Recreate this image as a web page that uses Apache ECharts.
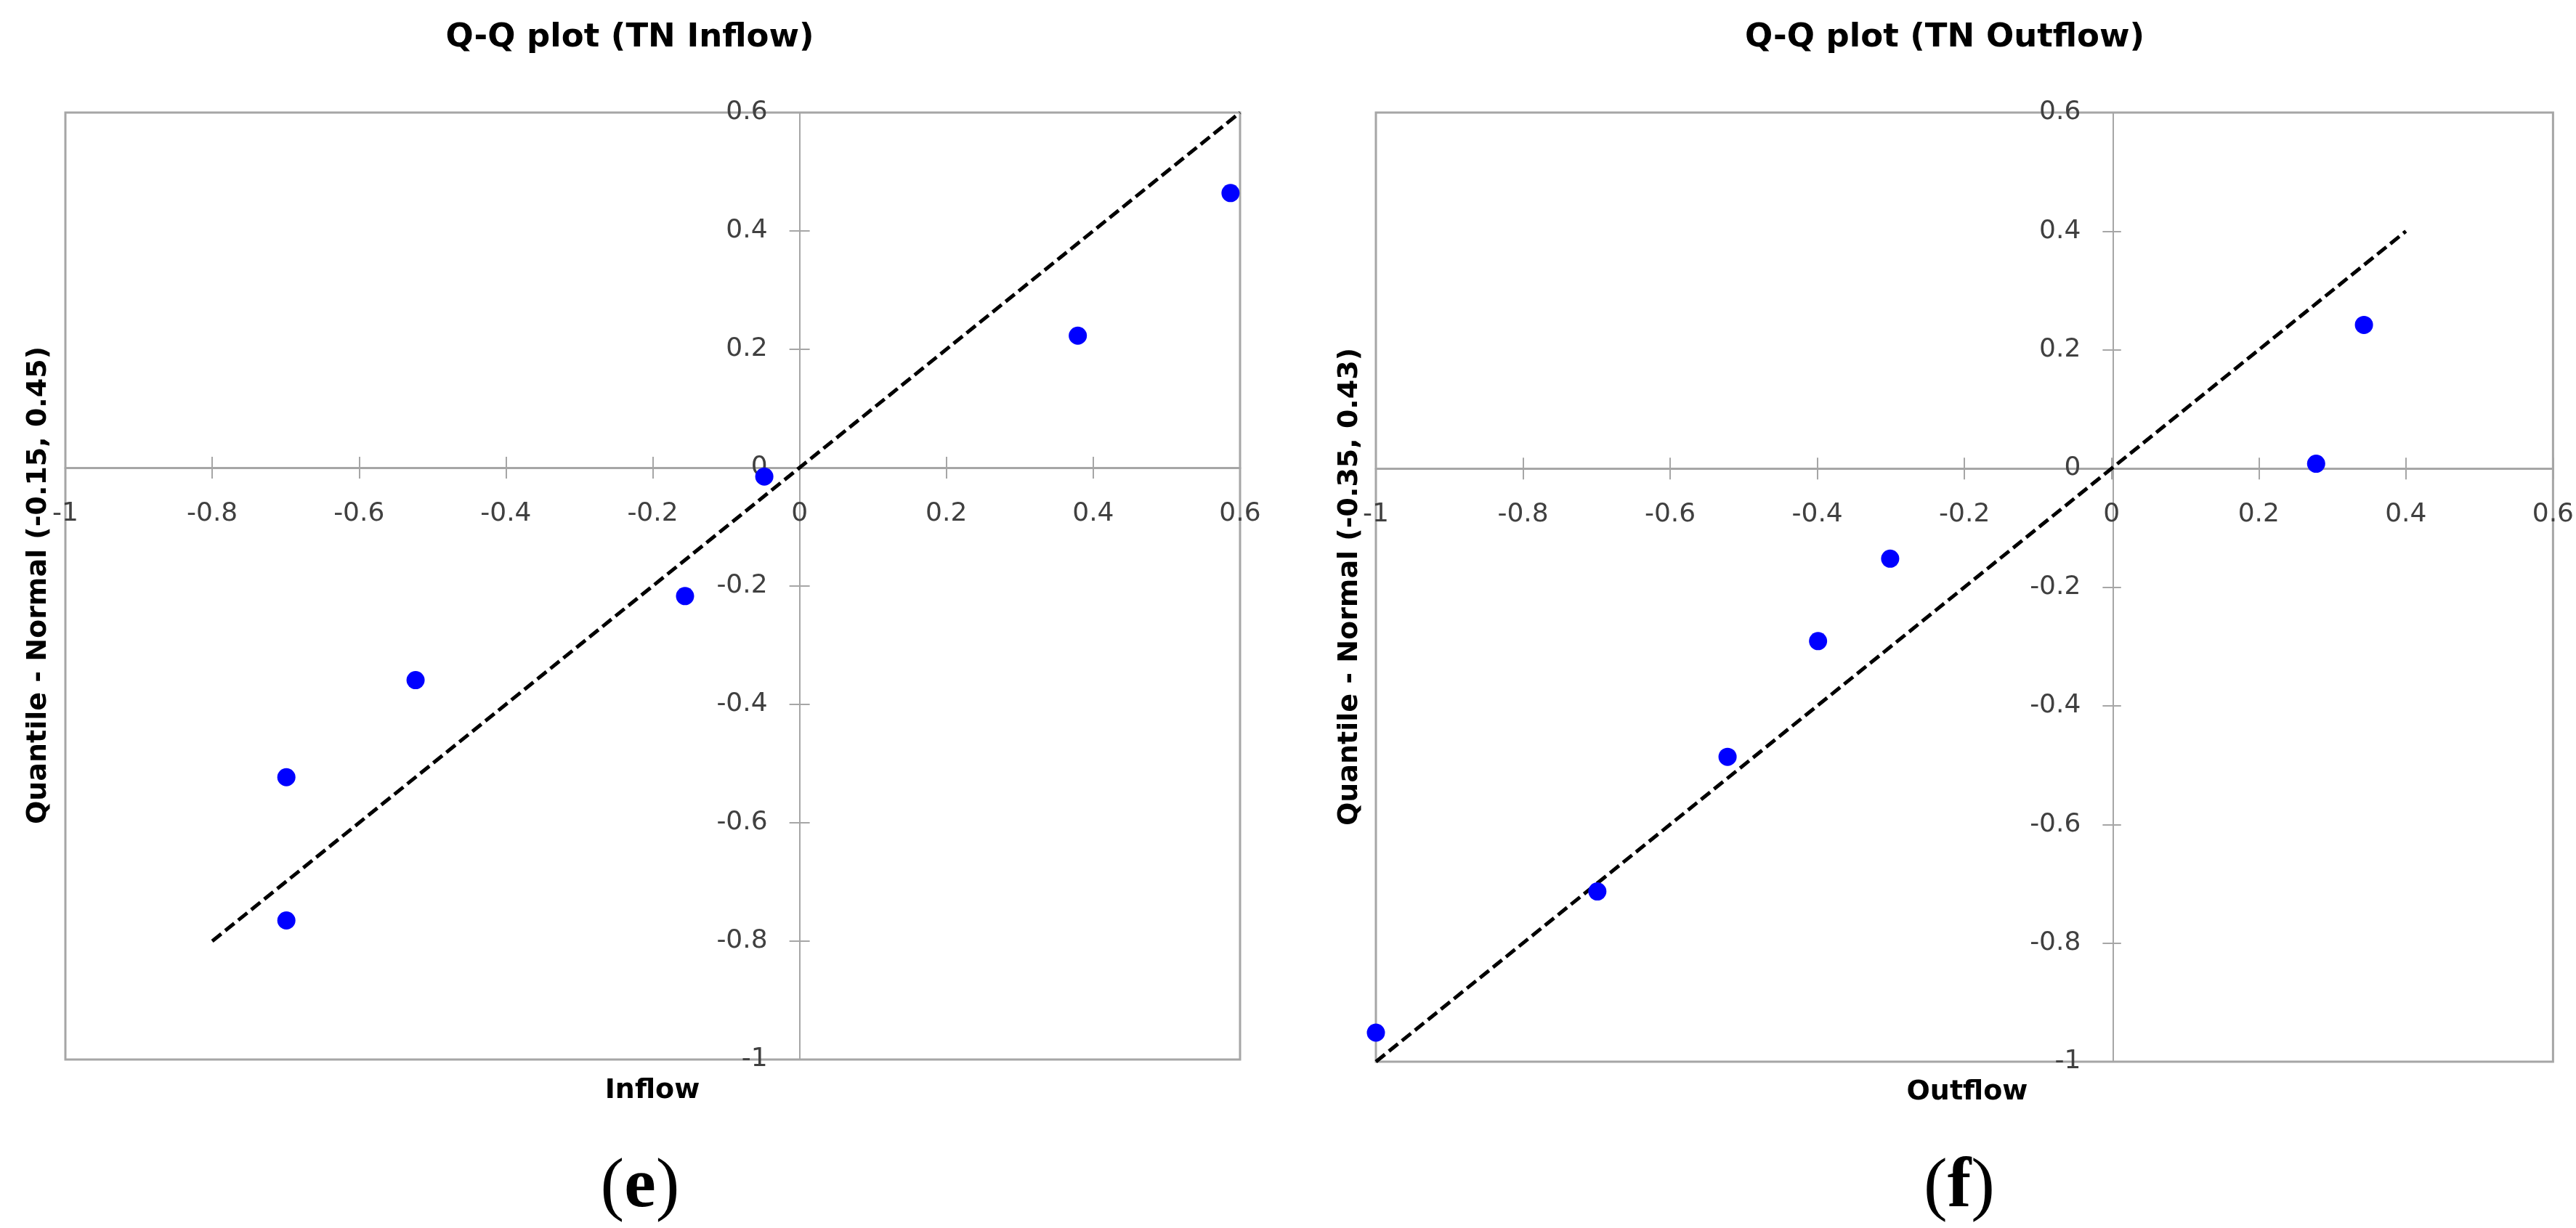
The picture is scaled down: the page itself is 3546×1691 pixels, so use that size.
<!DOCTYPE html>
<html>
<head>
<meta charset="utf-8">
<title>Q-Q plot (TN)</title>
<script src="https://cdn.jsdelivr.net/npm/echarts@6/dist/echarts.min.js"></script>
<style>
    html, body { margin: 0; padding: 0; background: #fff; }
    #demo { width: 3546px; height: 1691px; }
</style>
</head>
<body>
<div id="demo"></div>
<script>
/**
 * 数据区 --- 值
 */
// (e) TN Inflow
var inflow_x = [-0.699, -0.699, -0.523, -0.156, -0.048, 0.379, 0.587];
var inflow_y = [-0.765, -0.523, -0.359, -0.217, -0.015, 0.223, 0.464];
var inflow_line_x = [-0.8, 0.6];
var inflow_line_y = [-0.8, 0.6];

// (f) TN Outflow
var outflow_x = [-1.0, -0.699, -0.522, -0.399, -0.301, 0.278, 0.343];
var outflow_y = [-0.951, -0.713, -0.486, -0.291, -0.152, 0.008, 0.242];
var outflow_line_x = [-1.0, 0.4];
var outflow_line_y = [-1.0, 0.4];

// 坐标轴范围
var axis_min = -1;
var axis_max = 0.6;
var axis_step = 0.2;

// 文字
var chart_titles = ['Q-Q plot (TN Inflow)', 'Q-Q plot (TN Outflow)'];
var x_names = ['Inflow', 'Outflow'];
var y_names = ['Quantile - Normal (-0.15, 0.45)', 'Quantile - Normal (-0.35, 0.43)'];
var panel_tags = ['e', 'f'];

/**
 * 初始化参数
 */
var basedata = {
    dom_id: 'demo',
    myChart: null,
    axis_color: '#a6a6a6',
    label_color: '#404040',
    sans: '"DejaVu Sans", sans-serif',
    serif: '"Liberation Serif", "Times New Roman", serif',
    // 两个绘图区 (像素)
    grids: [
        { left: 90, top: 155, width: 1617, height: 1304 },
        { left: 1894, top: 155, width: 1623, height: 1307 }
    ]
};

window.onload = function () {
    init_application();
};

/**
 * 应用初始化加载
 */
var init_application = function () {
    basedata.myChart = echarts.init(document.getElementById(basedata.dom_id));
    basedata.myChart.setOption(build_option());
};

/******************************************************* 函数区 ********************************************************/

// 把两个数组拼成 [x, y] 点
function zip_points(xs, ys) {
    var out = [];
    for (var i = 0; i < xs.length; i++) {
        out.push([xs[i], ys[i]]);
    }
    return out;
}

// 零点到绘图区某一边的距离占比 (v6 里 onZero 不带标签, 所以用负 offset 把轴挪到零点)
function zero_from_min() { return (0 - axis_min) / (axis_max - axis_min); }
function zero_from_max() { return (axis_max - 0) / (axis_max - axis_min); }

// 一个面板的 x 轴: 主轴带标签 (刻度向下), 副轴只画向上的刻度, 合起来是十字刻度
function make_x_axes(grid_index) {
    var h = basedata.grids[grid_index].height;
    var tick = { show: true, length: 15, lineStyle: { color: basedata.axis_color, width: 2 } };
    var common = {
        type: 'value', gridIndex: grid_index,
        min: axis_min, max: axis_max, interval: axis_step,
        splitLine: { show: false }, axisTick: tick
    };
    var main = echarts.util.extend({
        position: 'bottom',
        offset: -h * zero_from_min(),
        axisLine: { onZero: false, lineStyle: { color: basedata.axis_color, width: 3 } },
        axisLabel: { margin: 46, color: basedata.label_color, fontFamily: basedata.sans, fontSize: 36 }
    }, common);
    var second = echarts.util.extend({
        position: 'top',
        offset: -h * zero_from_max(),
        axisLine: { show: false, onZero: false },
        axisLabel: { show: false }
    }, common);
    return [main, second];
}

function make_y_axes(grid_index) {
    var w = basedata.grids[grid_index].width;
    var tick = { show: true, length: 14, lineStyle: { color: basedata.axis_color, width: 2 } };
    var common = {
        type: 'value', gridIndex: grid_index,
        min: axis_min, max: axis_max, interval: axis_step,
        splitLine: { show: false }, axisTick: tick
    };
    var main = echarts.util.extend({
        position: 'left',
        offset: -w * zero_from_min(),
        axisLine: { onZero: false, lineStyle: { color: basedata.axis_color, width: 2 } },
        axisLabel: { margin: 44, color: basedata.label_color, fontFamily: basedata.sans, fontSize: 36 }
    }, common);
    var second = echarts.util.extend({
        position: 'right',
        offset: -w * zero_from_max(),
        axisLine: { show: false, onZero: false },
        axisLabel: { show: false }
    }, common);
    return [main, second];
}

function make_series(axis_index, xs, ys, line_xs, line_ys) {
    return [{
        type: 'line',
        xAxisIndex: axis_index, yAxisIndex: axis_index,
        data: zip_points(line_xs, line_ys),
        symbol: 'none',
        lineStyle: { color: '#000', width: 5, type: [16, 7] },
        z: 2
    }, {
        type: 'scatter',
        xAxisIndex: axis_index, yAxisIndex: axis_index,
        data: zip_points(xs, ys),
        symbol: 'circle',
        symbolSize: 25,
        itemStyle: { color: '#0000ff', opacity: 1 },
        z: 3
    }];
}

function text_el(text, x, y, font, rotation) {
    return {
        type: 'text', x: x, y: y, rotation: rotation || 0,
        style: { text: text, font: font, fill: '#000', align: 'center', verticalAlign: 'middle' }
    };
}

// (e) / (f): 括号细, 字母粗
function tag_el(letter, x, y) {
    return {
        type: 'text', x: x, y: y,
        style: {
            text: '{p|(}{b|' + letter + '}{p|)}',
            align: 'center', verticalAlign: 'middle', fill: '#000',
            rich: {
                p: { fontFamily: basedata.serif, fontSize: 98, fontWeight: 'normal', fill: '#000' },
                b: { fontFamily: basedata.serif, fontSize: 98, fontWeight: 'bold', fill: '#000' }
            }
        }
    };
}

function build_option() {
    var bold = 'bold 45px ' + basedata.sans;
    var bold_axis = 'bold 38px ' + basedata.sans;
    var grids = basedata.grids.map(function (g) {
        return echarts.util.extend({ show: true, borderColor: basedata.axis_color, borderWidth: 3 }, g);
    });
    return {
        animation: false,
        backgroundColor: '#fff',
        grid: grids,
        // xAxis/yAxis 0,1 -> 左图; 2,3 -> 右图
        xAxis: make_x_axes(0).concat(make_x_axes(1)),
        yAxis: make_y_axes(0).concat(make_y_axes(1)),
        series: make_series(0, inflow_x, inflow_y, inflow_line_x, inflow_line_y)
            .concat(make_series(2, outflow_x, outflow_y, outflow_line_x, outflow_line_y)),
        graphic: [
            text_el(chart_titles[0], 867, 52, bold),
            text_el(chart_titles[1], 2677, 52, bold),
            text_el(x_names[0], 898, 1502, bold_axis),
            text_el(x_names[1], 2708, 1504, bold_axis),
            text_el(y_names[0], 53, 806, bold_axis, Math.PI / 2),
            text_el(y_names[1], 1858, 808, bold_axis, Math.PI / 2),
            tag_el(panel_tags[0], 881, 1636),
            tag_el(panel_tags[1], 2697, 1636)
        ]
    };
}
</script>
</body>
</html>
